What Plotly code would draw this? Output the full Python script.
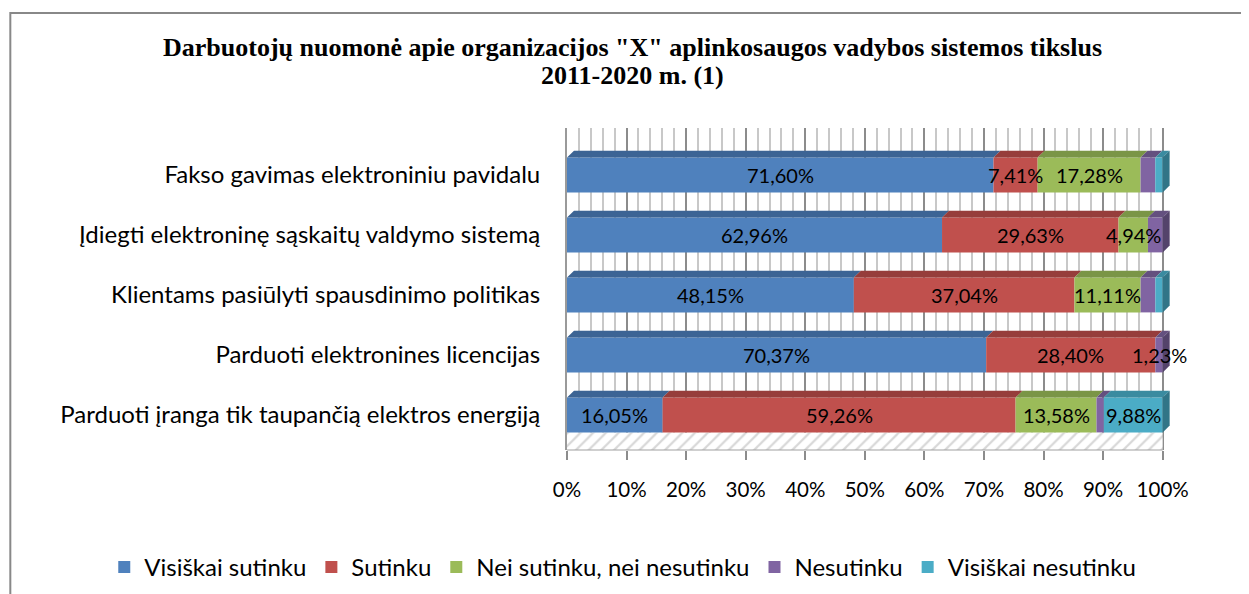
import plotly.graph_objects as go

categories = [
    "Parduoti įranga tik taupančią elektros energiją",
    "Parduoti elektronines licencijas",
    "Klientams pasiūlyti spausdinimo politikas",
    "Įdiegti elektroninę sąskaitų valdymo sistemą",
    "Fakso gavimas elektroniniu pavidalu",
]
series_names = ["Visiškai sutinku", "Sutinku", "Nei sutinku, nei nesutinku",
                "Nesutinku", "Visiškai nesutinku"]
visiskai_sutinku = [16.05, 70.37, 48.15, 62.96, 71.60]
sutinku = [59.26, 28.40, 37.04, 29.63, 7.41]
nei = [13.58, 0.0, 11.11, 4.94, 17.28]
nesutinku = [1.23, 1.23, 2.47, 2.47, 2.47]
visiskai_nesutinku = [9.88, 0.0, 1.23, 0.0, 1.23]
# which values carry a data label
show_label = [
    [True, True, True, True, True],
    [True, True, True, True, True],
    [True, False, True, True, True],
    [False, True, False, False, False],
    [True, False, False, False, False],
]
colors = ["#4F81BD", "#C0504D", "#9BBB59", "#8064A2", "#4BACC6"]
top_colors = ["#3C6494", "#963D3B", "#7A9546", "#64507F", "#3A8BA0"]
side_colors = ["#34577F", "#813432", "#688039", "#54436B", "#317587"]
tick_vals = [0, 10, 20, 30, 40, 50, 60, 70, 80, 90, 100]

series = [visiskai_sutinku, sutinku, nei, nesutinku, visiskai_nesutinku]

# page offset (browser body margin) is 8px
OFF = 8
W, H = 1249 - OFF, 594 - OFF
XMAX = 101.4                      # room for the 3D side faces
L, T, B = 567 - OFF, 128 - OFF, 450 - OFF
P100 = 596                        # pixels from 0% to 100%
PW = P100 * XMAX / 100
R = L + PW
PH = B - T
def px(x):
    return (x - OFF - L) / PW
def py(y):
    return (B - (y - OFF)) / PH

HALF = 0.29        # half bar thickness (category units)
DEPTH_Y = 0.115    # 3D depth in category units
DEPTH_X = 7 / P100 * 100  # 3D depth in % units

SANS = "Lato, Open Sans, sans-serif"
ypos = list(range(len(categories)))
fig = go.Figure()

# hatched floor
fig.add_trace(go.Bar(y=[ypos[0]], x=[100], base=[0], orientation="h",
                     offset=-0.583, width=0.293, showlegend=False, hoverinfo="skip",
                     marker=dict(color="white", line=dict(width=0),
                                 pattern=dict(shape="/", fgcolor="#B0B0B0", bgcolor="white",
                                              size=9, solidity=0.25))))

cum = [0.0] * len(categories)
annotations = []
last_series = [None] * len(categories)
for s, (name, vals, col, tcol) in enumerate(zip(series_names, series, colors, top_colors)):
    base = list(cum)
    fig.add_trace(go.Bar(y=ypos, x=vals, base=base, name=name, orientation="h",
                         width=2 * HALF,
                         marker=dict(color=col, line=dict(width=0)), hoverinfo="skip"))
    # top faces (parallelograms)
    tx, ty = [], []
    for i, v in enumerate(vals):
        if v <= 0:
            continue
        x0, x1 = base[i], base[i] + v
        y0 = ypos[i] + HALF
        tx += [x0, x1, x1 + DEPTH_X, x0 + DEPTH_X, x0, None]
        ty += [y0, y0, y0 + DEPTH_Y, y0 + DEPTH_Y, y0, None]
        last_series[i] = s
    fig.add_trace(go.Scatter(x=tx, y=ty, mode="lines", fill="toself", fillcolor=tcol,
                             line=dict(width=0, color=tcol), showlegend=False, hoverinfo="skip"))
    for i, v in enumerate(vals):
        if show_label[s][i] and v > 0:
            annotations.append(dict(
                x=cum[i] + v / 2, y=ypos[i], xref="x", yref="y",
                text=f"{v:.2f}%".replace(".", ","), showarrow=False,
                font=dict(family=SANS, size=20, color="#000000")))
        cum[i] += v

# right side faces of each bar
for i in range(len(categories)):
    s = last_series[i]
    xe = cum[i]
    yb, yt = ypos[i] - HALF, ypos[i] + HALF
    fig.add_trace(go.Scatter(x=[xe, xe, xe + DEPTH_X, xe + DEPTH_X, xe],
                             y=[yb, yt, yt + DEPTH_Y, yb + DEPTH_Y, yb],
                             mode="lines", fill="toself", fillcolor=side_colors[s],
                             line=dict(width=0, color=side_colors[s]),
                             showlegend=False, hoverinfo="skip"))

TITLE_FONT = dict(family="Liberation Serif, Times New Roman, serif", size=26, color="#000000")
annotations.append(dict(xref="paper", yref="paper", x=px(633), y=py(47), showarrow=False,
                        xanchor="center", yanchor="middle",
                        text="<b>Darbuotojų nuomonė apie organizacijos \"X\" aplinkosaugos vadybos sistemos tikslus</b>",
                        font=TITLE_FONT))
annotations.append(dict(xref="paper", yref="paper", x=px(633), y=py(76), showarrow=False,
                        xanchor="center", yanchor="middle",
                        text="<b>2011-2020 m. (1)</b>", font=TITLE_FONT))

fig.update_layout(
    width=W, height=H,
    barmode="overlay",
    paper_bgcolor="white", plot_bgcolor="white",
    margin=dict(l=L, r=W - R, t=T, b=H - B, autoexpand=False),
    xaxis=dict(range=[0, XMAX], tickmode="array", tickvals=tick_vals,
               ticktext=[f"{t}%" for t in tick_vals],
               showgrid=True, gridcolor="#8C8C8C", gridwidth=2,
               ticks="outside", ticklen=9, tickcolor="#8C8C8C", tickwidth=2,
               showline=False, zeroline=False, ticklabelstandoff=12,
               minor=dict(tickmode="linear", tick0=0, dtick=2, showgrid=True,
                          gridcolor="#C8C8C8", gridwidth=2, ticks=""),
               tickfont=dict(family=SANS, size=20.5, color="#000000")),
    yaxis=dict(range=[-0.583, 4.783], tickmode="array", tickvals=ypos, ticktext=categories,
               showgrid=False, zeroline=False,
               showline=True, linecolor="#9A9A9A", linewidth=2, ticks="",
               ticklabelstandoff=20,
               tickfont=dict(family=SANS, size=24, color="#000000")),
    legend=dict(orientation="h", xref="paper", yref="paper",
                x=px(104), xanchor="left", y=py(545), yanchor="top",
                font=dict(family=SANS, size=24, color="#000000"),
                itemwidth=30, traceorder="normal"),
    annotations=annotations,
    shapes=[
        dict(type="rect", xref="paper", yref="paper",
             x0=px(10), x1=px(1270), y0=py(13), y1=py(620),
             line=dict(color="#888888", width=2), fillcolor="rgba(0,0,0,0)", layer="below"),
        dict(type="line", xref="x", yref="paper", x0=0, x1=100, y0=0, y1=0,
             line=dict(color="#A0A0A0", width=1)),
    ],
    showlegend=True,
)
fig.write_html("out.html")
